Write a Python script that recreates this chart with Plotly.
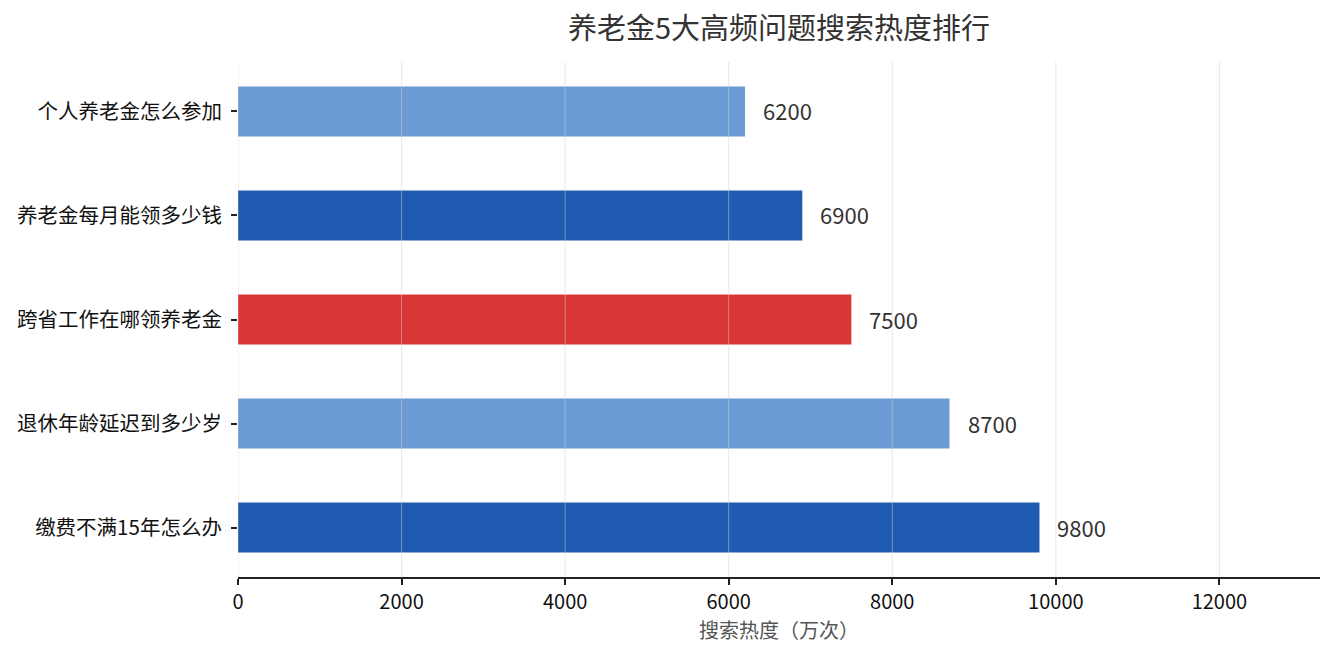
import plotly.graph_objects as go

categories = ["个人养老金怎么参加", "养老金每月能领多少钱", "跨省工作在哪领养老金", "退休年龄延迟到多少岁", "缴费不满15年怎么办"]
values = [6200, 6900, 7500, 8700, 9800]
colors = ["#6b9bd4", "#1f5bb0", "#d93636", "#6b9bd4", "#1f5bb0"]
x_ticks = [0, 2000, 4000, 6000, 8000, 10000, 12000]

FONT = "Noto Sans CJK SC"

fig = go.Figure()
fig.add_trace(go.Bar(
    y=categories, x=values, orientation="h",
    marker=dict(color=colors, line=dict(width=0)),
    width=0.48, hoverinfo="x+y",
))

for c, v in zip(categories, values):
    fig.add_annotation(x=v, y=c, text=str(v), showarrow=False,
                       xanchor="left", xshift=16, yshift=1,
                       font=dict(family=FONT, size=22, color="#333333"))

for t in x_ticks:
    fig.add_shape(type="line", xref="x", yref="paper", x0=t, x1=t, y0=0, y1=1,
                  line=dict(color="rgba(210,210,210,0.5)", width=1), layer="above")

fig.add_annotation(text="养老金5大高频问题搜索热度排行", x=0.5, xref="paper", xanchor="center",
                   y=1, yref="paper", yanchor="bottom", yshift=13, showarrow=False,
                   font=dict(family=FONT, size=29, color="#333333"))

fig.update_layout(
    width=1327, height=652,
    margin=dict(l=230, r=15, t=54, b=83, autoexpand=False),
    paper_bgcolor="white", plot_bgcolor="white",
    font=dict(family=FONT, color="#222222"),
    showlegend=False,
)
fig.update_xaxes(
    automargin=False,
    range=[0, 13230], tickvals=x_ticks, ticktext=[str(t) for t in x_ticks],
    showgrid=False, zeroline=False,
    showline=True, linecolor="#222222", linewidth=1.5,
    ticks="outside", ticklen=6, tickwidth=1.5, tickcolor="#222222",
    tickfont=dict(family=FONT, size=20, color="#111111"),
    title=dict(text="搜索热度（万次）", font=dict(family=FONT, size=20, color="#555555"), standoff=4),
)
fig.update_yaxes(
    automargin=False,
    autorange=False, range=[4.475, -0.475],
    categoryorder="array", categoryarray=categories,
    showgrid=False, zeroline=False, showline=False,
    ticks="outside", ticklen=6, tickwidth=1.5, tickcolor="#222222",
    ticklabelstandoff=5,
    tickfont=dict(family=FONT, size=20.5, color="#111111"),
)

fig.write_html("out.html")
